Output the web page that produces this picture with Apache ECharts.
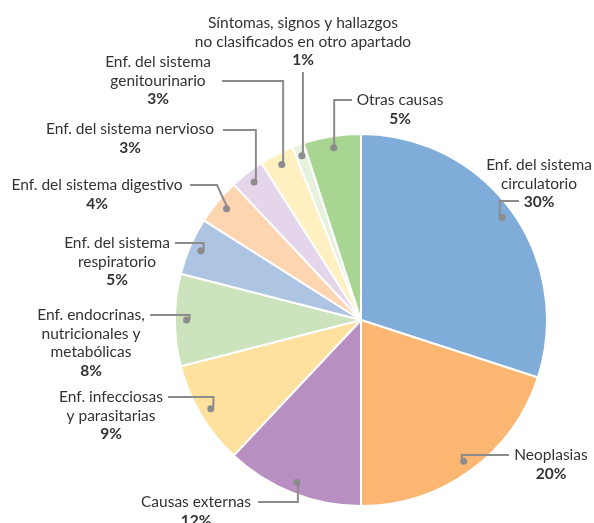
<!DOCTYPE html>
<html>
<head>
<meta charset="utf-8">
<script src="https://cdn.jsdelivr.net/npm/echarts@6/dist/echarts.min.js"></script>
<style>
  html, body { margin: 0; padding: 0; background: #fff; }
  #chart { width: 594px; height: 523px; }
</style>
</head>
<body>
<div id="chart"></div>
<script>
// datos: causas de muerte (%)
var causas = [
  'Enf. del sistema\ncirculatorio',
  'Neoplasias',
  'Causas externas',
  'Enf. infecciosas\ny parasitarias',
  'Enf. endocrinas,\nnutricionales y\nmetabólicas',
  'Enf. del sistema\nrespiratorio',
  'Enf. del sistema digestivo',
  'Enf. del sistema nervioso',
  'Enf. del sistema\ngenitourinario',
  'Síntomas, signos y hallazgos\nno clasificados en otro apartado',
  'Otras causas'
];
var porcentajes = [30, 20, 12, 9, 8, 5, 4, 3, 3, 1, 5];
var colores = ['#80acd9', '#fbb672', '#b78fc1', '#fee19f', '#cde3bd', '#adc4e2',
               '#fdd6b1', '#e5d5ea', '#fff0c1', '#e6f1de', '#a9d592'];

// posición de cada etiqueta: centro x, y superior, fin de la guía, tipo de codo
var etiquetas = [
  { x: 539, y: 156, end: [519, 201], kind: 'h' },
  { x: 551, y: 446, end: [509, 455], kind: 'h' },
  { x: 196, y: 493, end: [258, 502], kind: 'h' },
  { x: 111, y: 388, end: [168, 397], kind: 'h' },
  { x: 91,  y: 306, end: [150, 315], kind: 'h' },
  { x: 117, y: 234, end: [175, 243], kind: 'h' },
  { x: 97,  y: 176, end: [190, 185], kind: [217, 185] },
  { x: 130, y: 120, end: [223, 130], kind: 'h' },
  { x: 158, y: 53,  end: [222, 81],  kind: 'h' },
  { x: 303, y: 14,  end: [0, 72],    kind: 'v' },
  { x: 400, y: 91,  end: [352, 100], kind: 'h' }
];

var CX = 361, CY = 320, R = 186, RDOT = 171.5;

// ángulo medio de cada sector (desde arriba, sentido horario)
var total = porcentajes.reduce(function (a, b) { return a + b; }, 0);
var acum = 0;
var angulos = porcentajes.map(function (v) {
  var a = (acum + v / 2) / total * 2 * Math.PI;
  acum += v;
  return a;
});

function punto(i) {
  return [CX + RDOT * Math.sin(angulos[i]), CY - RDOT * Math.cos(angulos[i])];
}

var datos = causas.map(function (c, i) {
  return { name: c, value: porcentajes[i], itemStyle: { color: colores[i] } };
});
var transparentes = causas.map(function (c, i) {
  return { name: c, value: porcentajes[i] };
});

var myChart = echarts.init(document.getElementById('chart'));

myChart.setOption({
  backgroundColor: '#fff',
  animation: false,
  series: [
    {
      type: 'pie',
      center: [CX, CY],
      radius: [0, R],
      startAngle: 90,
      clockwise: true,
      silent: true,
      data: datos,
      itemStyle: { borderColor: '#fff', borderWidth: 2 },
      label: { show: false },
      labelLine: { show: false }
    },
    {
      // etiquetas y guías, encima del pastel
      type: 'pie',
      center: [CX, CY],
      radius: [0, R],
      startAngle: 90,
      clockwise: true,
      avoidLabelOverlap: false,
      silent: true,
      z: 4,
      data: transparentes,
      itemStyle: { color: 'transparent', borderWidth: 0 },
      label: {
        show: true,
        position: 'outside',
        formatter: function (p) {
          return '{n|' + p.name.split('\n').join('}\n{n|') + '}\n{p|' + p.value + '%}';
        },
        rich: {
          n: { fontFamily: 'Lato', fontSize: 15.5, color: '#333', lineHeight: 18.5, align: 'center' },
          p: { fontFamily: 'Lato', fontSize: 15.5, fontWeight: 'bold', color: '#333', lineHeight: 18.5, align: 'center' }
        }
      },
      labelLine: {
        show: true,
        lineStyle: { color: '#8c8c8c', width: 2 }
      },
      labelLayout: function (params) {
        var e = etiquetas[params.dataIndex];
        var d = punto(params.dataIndex);
        var end = e.end.slice();
        var codo;
        if (e.kind === 'h') {
          codo = [d[0], end[1]];
        } else if (e.kind === 'v') {
          end[0] = d[0];
          codo = [d[0], (d[1] + end[1]) / 2];
        } else {
          codo = e.kind;
        }
        return {
          x: e.x,
          y: e.y,
          align: 'center',
          verticalAlign: 'top',
          labelLinePoints: [d, codo, end]
        };
      }
    },
    {
      // puntos al inicio de cada guía
      type: 'pie',
      center: [CX, CY],
      radius: [RDOT - (R - RDOT), R],
      startAngle: 90,
      clockwise: true,
      silent: true,
      z: 5,
      data: transparentes,
      itemStyle: { color: 'transparent', borderWidth: 0 },
      label: {
        show: true,
        position: 'inside',
        formatter: '{d|}',
        rich: { d: { width: 7, height: 7, borderRadius: 3.5, backgroundColor: '#8c8c8c' } }
      },
      labelLine: { show: false }
    }
  ]
});
</script>
</body>
</html>
